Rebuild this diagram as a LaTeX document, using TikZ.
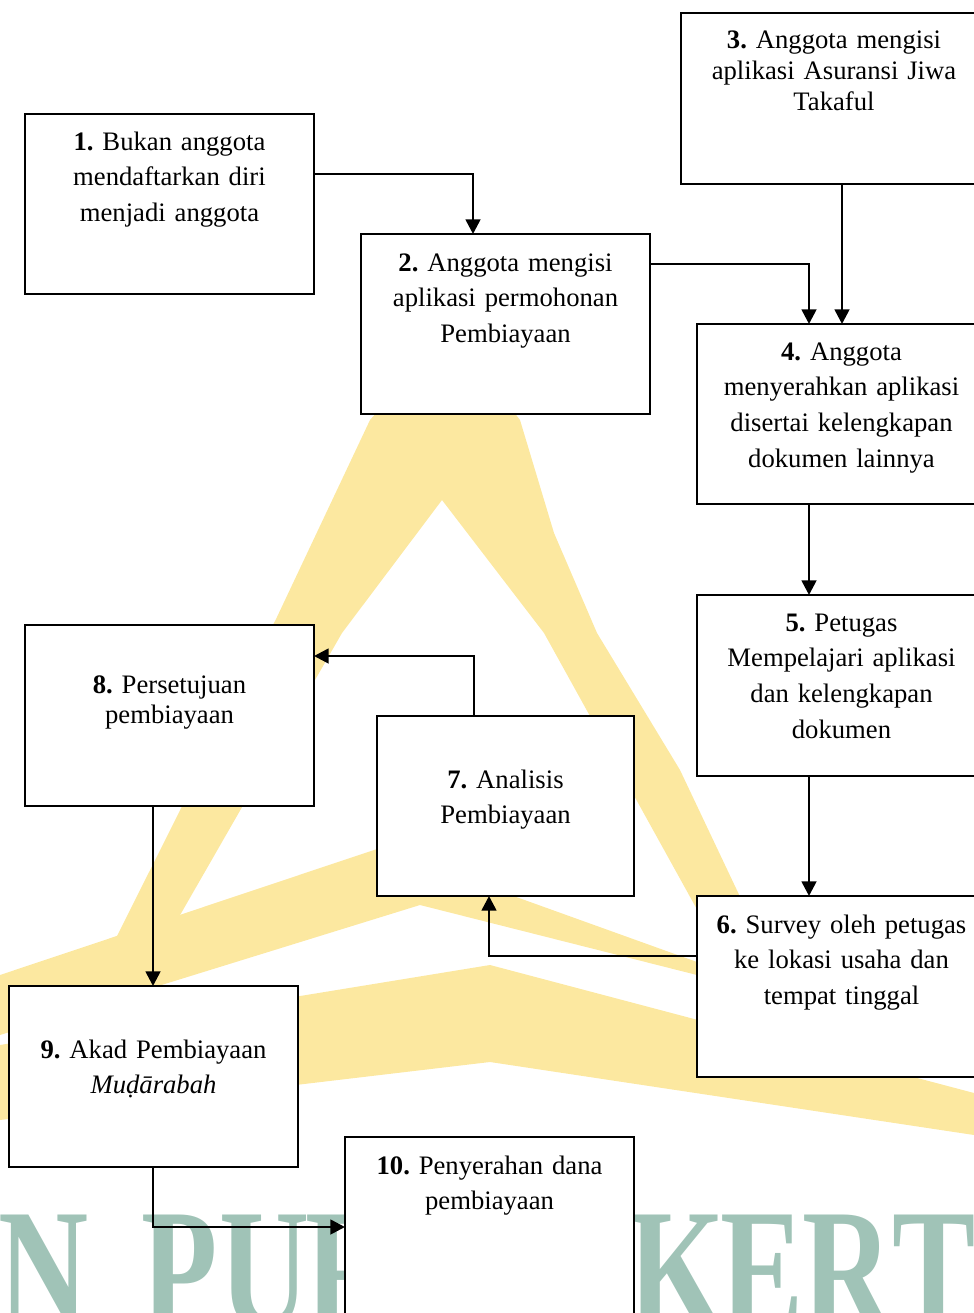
\documentclass[tikz,border=0pt]{standalone}
\usepackage{fontspec}
\setmainfont{Liberation Serif}
\newfontfamily\wmfont[FakeStretch=0.72]{Liberation Serif}
\usetikzlibrary{arrows.meta,calc}
\definecolor{wmgold}{RGB}{252,232,160}
\definecolor{wmteal}{RGB}{160,195,183}
\newcommand{\linetop}{\rule{0pt}{18pt}}

\begin{document}
\frenchspacing
\begin{tikzpicture}[x=0.75pt,y=-0.75pt,
  box/.style={draw, fill=white, line width=2.1pt, inner sep=0pt, outer sep=0pt, anchor=north west},
  txt/.style={inner sep=0pt, outer sep=0pt, anchor=north, align=center, text width=235pt,
              font=\fontsize{20}{26.8}\selectfont\frenchspacing},
  tight/.style={font=\fontsize{20}{23}\selectfont\frenchspacing},
  arr/.style={line width=2pt, -{Triangle[length=11pt,width=11pt]}},
  wm/.style={inner sep=0pt, outer sep=0pt, anchor=base west, text=wmteal,
             font=\wmfont\bfseries\fontsize{130}{130}\selectfont}]

\useasboundingbox (0,0) rectangle (974,1313);
\clip (0,0) rectangle (974,1313);

% background emblem
\fill[wmgold] (110,950) -- (277,617) -- (370,420) -- (450,330) -- (520,420) -- (554,533)
  -- (597,633) -- (680,770) -- (770,960) -- (725,960) -- (544,633) -- (442,500)
  -- (342,633) -- (160,950) -- cycle;
\fill[wmgold] (0,975) -- (380,848) -- (697,962) -- (760,990) -- (760,1000) -- (697,975)
  -- (420,905) -- (0,1035) -- cycle;
\fill[wmgold] (0,1045) -- (490,965) -- (974,1093) -- (974,1135) -- (490,1062) -- (0,1120) -- cycle;
\node[wm] (wmN) at (0,1328) {\makebox[66pt][c]{N}};
\node[wm] (wmPUR) at (137,1328) {\makebox[64pt][c]{P}\makebox[64pt][c]{U}\makebox[64pt][c]{R}};
\node[wm] (wmKERT) at (634,1328) {\makebox[64pt][c]{K}\makebox[64pt][c]{E}\makebox[65pt][c]{R}\makebox[64pt][c]{T}};

% boxes
\node[box, minimum width=289*0.75pt, minimum height=180*0.75pt] (b1) at (25,114) {};
\node[box, minimum width=289*0.75pt, minimum height=180*0.75pt] (b2) at (361,234) {};
\node[box, minimum width=306*0.75pt, minimum height=171*0.75pt] (b3) at (681,13) {};
\node[box, minimum width=289*0.75pt, minimum height=180*0.75pt] (b4) at (697,324) {};
\node[box, minimum width=289*0.75pt, minimum height=181*0.75pt] (b5) at (697,595) {};
\node[box, minimum width=289*0.75pt, minimum height=181*0.75pt] (b6) at (697,896) {};
\node[box, minimum width=257*0.75pt, minimum height=180*0.75pt] (b7) at (377,716) {};
\node[box, minimum width=289*0.75pt, minimum height=181*0.75pt] (b8) at (25,625) {};
\node[box, minimum width=289*0.75pt, minimum height=181*0.75pt] (b9) at (9,986) {};
\node[box, minimum width=289*0.75pt, minimum height=220*0.75pt] (b10) at (345,1137) {};

% labels
\node[txt] (tx1) at ($(b1.north)+(0,12)$) {\linetop\textbf{1.} Bukan anggota\\ mendaftarkan diri\\ menjadi anggota};
\node[txt] (tx2) at ($(b2.north)+(0,13)$) {\linetop\textbf{2.} Anggota mengisi\\ aplikasi permohonan\\ Pembiayaan};
\node[txt, tight] (tx3) at ($(b3.north)+(0,12)$) {\linetop\textbf{3.} Anggota mengisi\\ aplikasi Asuransi Jiwa\\ Takaful};
\node[txt] (tx4) at ($(b4.north)+(0,12)$) {\linetop\textbf{4.} Anggota\\ menyerahkan aplikasi\\ disertai kelengkapan\\ dokumen lainnya};
\node[txt] (tx5) at ($(b5.north)+(0,12)$) {\linetop\textbf{5.} Petugas\\ Mempelajari aplikasi\\ dan kelengkapan\\ dokumen};
\node[txt] (tx6) at ($(b6.north)+(0,13)$) {\linetop\textbf{6.} Survey oleh petugas\\ ke lokasi usaha dan\\ tempat tinggal};
\node[txt] (tx7) at ($(b7.north)+(0,48)$) {\linetop\textbf{7.} Analisis\\ Pembiayaan};
\node[txt, tight] (tx8) at ($(b8.north)+(0,44)$) {\linetop\textbf{8.} Persetujuan\\ pembiayaan};
\node[txt] (tx9) at ($(b9.north)+(0,48)$) {\linetop\textbf{9.} Akad Pembiayaan\\ \textit{Muḍārabah}};
\node[txt] (tx10) at ($(b10.north)+(0,13)$) {\linetop\textbf{10.} Penyerahan dana\\ pembiayaan};

% connectors
\draw[arr] ($(b1.north east)+(0,60)$) -| ($(b2.north west)+(112,0)$);
\draw[arr] ($(b2.north east)+(0,30)$) -| ($(b4.north west)+(112,0)$);
\draw[arr] ($(b3.south west)+(161,0)$) -- ($(b4.north west)+(145,0)$);
\draw[arr] ($(b4.south west)+(112,0)$) -- ($(b5.north west)+(112,0)$);
\draw[arr] ($(b5.south west)+(112,0)$) -- ($(b6.north west)+(112,0)$);
\draw[arr] ($(b6.north west)+(0,60)$) -| ($(b7.south west)+(112,0)$);
\draw[arr] ($(b7.north west)+(97,0)$) |- ($(b8.north east)+(0,31)$);
\draw[arr] ($(b8.south west)+(128,0)$) -- ($(b9.north west)+(144,0)$);
\draw[arr] ($(b9.south west)+(144,0)$) |- ($(b10.north west)+(0,90)$);
\end{tikzpicture}
\end{document}
